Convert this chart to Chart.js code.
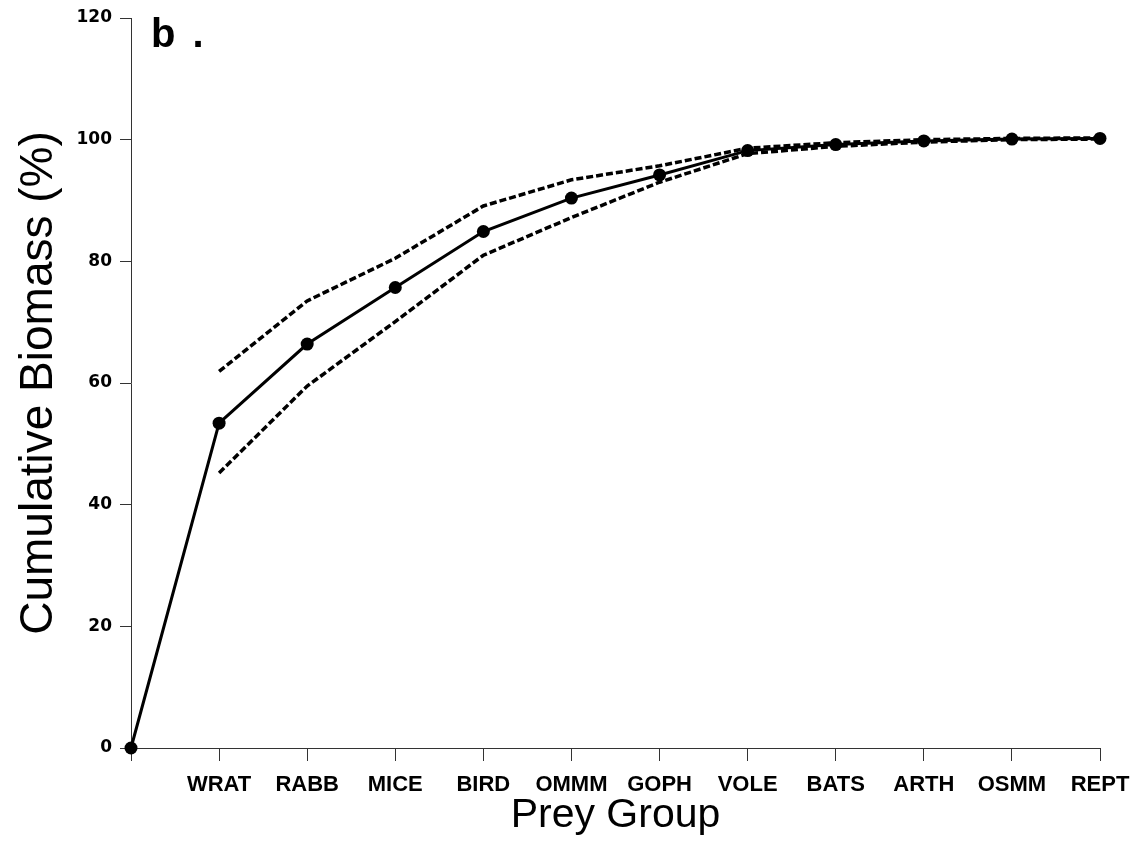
<!DOCTYPE html>
<html>
<head>
<meta charset="utf-8">
<title>Cumulative Biomass by Prey Group</title>
<script src="https://cdn.jsdelivr.net/npm/chart.js@4.4.1/dist/chart.umd.min.js"></script>
<style>
  html, body { margin: 0; padding: 0; background: #ffffff; }
  #wrap { width: 1135px; height: 852px; position: relative; }
</style>
</head>
<body>
<div id="wrap"><canvas id="chart" width="1135" height="852"></canvas></div>
<script>
// Prey groups in order of cumulative contribution (first slot is the origin)
const preyGroups = ["", "WRAT", "RABB", "MICE", "BIRD", "OMMM", "GOPH", "VOLE", "BATS", "ARTH", "OSMM", "REPT"];

// Cumulative biomass (%) and its upper / lower bounds
const cumulativeBiomass = [0, 53.4, 66.4, 75.7, 84.9, 90.4, 94.2, 98.2, 99.2, 99.8, 100.1, 100.2];
const upperBound = [null, 61.9, 73.5, 80.5, 89.1, 93.4, 95.7, 98.6, 99.5, 100.0, 100.2, 100.3];
const lowerBound = [null, 45.2, 59.5, 70.1, 81.0, 87.2, 93.0, 97.7, 98.9, 99.6, 100.0, 100.1];

// Y-axis tick values
const yTicks = [0, 20, 40, 60, 80, 100, 120];

const panelLabel = "b.";

const panelLabelPlugin = {
  id: 'panelLabel',
  afterDraw(chart) {
    const ctx = chart.ctx;
    ctx.save();
    ctx.fillStyle = '#000';
    ctx.font = 'bold 40px "Liberation Sans", Arial, sans-serif';
    if ('letterSpacing' in ctx) ctx.letterSpacing = '17px';
    ctx.textBaseline = 'alphabetic';
    ctx.textAlign = 'left';
    ctx.fillText(panelLabel, 151, 47);
    ctx.restore();
  }
};

const boundStyle = {
  borderColor: '#000',
  borderWidth: 3.5,
  borderDash: [7, 3],
  pointRadius: 0,
  pointHoverRadius: 0,
  fill: false,
  tension: 0,
  spanGaps: false
};

new Chart(document.getElementById('chart'), {
  type: 'line',
  data: {
    labels: preyGroups,
    datasets: [
      Object.assign({ label: 'Upper', data: upperBound }, boundStyle),
      Object.assign({ label: 'Lower', data: lowerBound }, boundStyle),
      {
        label: 'Cumulative Biomass',
        data: cumulativeBiomass,
        borderColor: '#000',
        backgroundColor: '#000',
        borderWidth: 3,
        pointRadius: 6.5,
        pointBackgroundColor: '#000',
        pointBorderColor: '#000',
        pointBorderWidth: 0,
        fill: false,
        tension: 0,
        clip: false
      }
    ]
  },
  options: {
    responsive: false,
    animation: false,
    events: [],
    layout: { padding: { left: 0, right: 35, top: 18, bottom: 0 } },
    plugins: {
      legend: { display: false },
      tooltip: { enabled: false }
    },
    scales: {
      x: {
        type: 'category',
        offset: false,
        afterFit(scale) {
          scale.height = 104;
          scale.paddingLeft = 0;
          scale.paddingRight = 0;
        },
        border: { display: true, color: '#333', width: 1 },
        grid: {
          display: true,
          drawOnChartArea: false,
          drawTicks: true,
          tickLength: 13,
          color: '#333',
          lineWidth: 1
        },
        ticks: {
          color: '#000',
          padding: 11,
          maxRotation: 0,
          autoSkip: false,
          font: { family: '"Liberation Sans", Arial, sans-serif', size: 22, weight: 'bold' }
        },
        title: {
          display: true,
          text: 'Prey Group',
          color: '#000',
          padding: { top: 0, bottom: 12 },
          font: { family: '"Liberation Sans", Arial, sans-serif', size: 41, weight: 'normal' }
        }
      },
      y: {
        min: 0,
        max: 120,
        afterFit(scale) {
          scale.width = 131;
          scale.paddingTop = 0;
          scale.paddingBottom = 0;
        },
        afterBuildTicks(scale) { scale.ticks = yTicks.map(v => ({ value: v })); },
        border: { display: true, color: '#333', width: 1 },
        grid: {
          display: true,
          drawOnChartArea: false,
          drawTicks: true,
          tickLength: 11,
          color: '#333',
          lineWidth: 1
        },
        ticks: {
          color: '#000',
          padding: 8,
          font: { family: '"DejaVu Sans", Verdana, sans-serif', size: 17, weight: 'bold' }
        },
        title: {
          display: true,
          text: 'Cumulative Biomass (%)',
          color: '#000',
          padding: { top: 12, bottom: 0 },
          font: { family: '"Liberation Sans", Arial, sans-serif', size: 46, weight: 'normal' }
        }
      }
    }
  },
  plugins: [panelLabelPlugin]
});
</script>
</body>
</html>
